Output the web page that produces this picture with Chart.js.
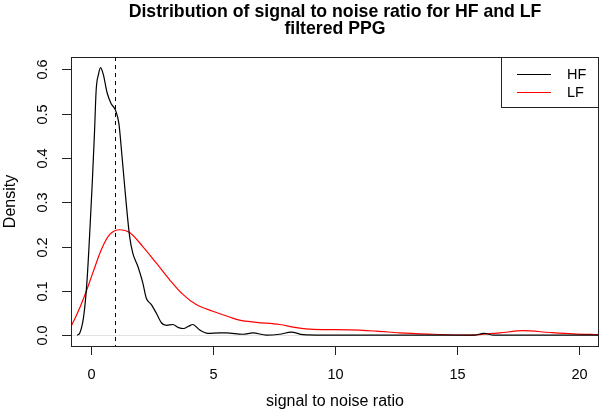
<!DOCTYPE html>
<html>
<head>
<meta charset="utf-8">
<script src="https://cdn.jsdelivr.net/npm/chart.js@4/dist/chart.umd.min.js"></script>
<style>
  body { margin: 0; background: #fff; }
  canvas { display: block; }
</style>
</head>
<body>
<canvas id="chart" width="602" height="412"></canvas>
<script>
// density estimates
const hfX = [-0.56, -0.45, -0.29, -0.16, -0.05, 0.06, 0.15, 0.22, 0.32, 0.40, 0.52, 0.66, 0.83, 1.01, 1.15, 1.28, 1.45, 1.59, 1.72, 1.93, 2.13, 2.27, 2.48, 2.68, 2.89, 3.09, 3.36, 3.6, 3.8, 4.0, 4.18, 4.45, 4.8, 5.27, 5.55, 6.23, 6.64, 7.19, 7.73, 8.21, 8.69, 9.5, 12, 15.7, 16.1, 16.5, 20.81];
const hfY = [0.0, 0.005, 0.043, 0.118, 0.223, 0.343, 0.455, 0.553, 0.59, 0.604, 0.587, 0.549, 0.523, 0.508, 0.478, 0.403, 0.298, 0.223, 0.185, 0.155, 0.118, 0.084, 0.069, 0.05, 0.028, 0.022, 0.024, 0.017, 0.015, 0.02, 0.024, 0.012, 0.004, 0.005, 0.005, 0.002, 0.005, 0.0, 0.002, 0.007, 0.001, 0.0, 0.0, 0.0, 0.004, 0.0, 0.0];

const lfX = [-0.81, -0.6, -0.26, 0.08, 0.43, 0.77, 1.2, 1.59, 2.13, 2.68, 3.23, 3.77, 4.32, 5.0, 5.68, 6.09, 6.78, 7.73, 8.42, 9.1, 10.6, 11.7, 12.65, 14.0, 15.4, 16.07, 16.75, 17.7, 18.8, 19.76, 20.81];
const lfY = [0.02, 0.043, 0.088, 0.14, 0.193, 0.227, 0.238, 0.232, 0.2, 0.163, 0.125, 0.092, 0.069, 0.054, 0.041, 0.034, 0.029, 0.024, 0.017, 0.013, 0.012, 0.009, 0.005, 0.002, 0.0, 0.002, 0.005, 0.01, 0.006, 0.003, 0.001];

const xTicks = [0, 5, 10, 15, 20];
const yTicks = [0.0, 0.1, 0.2, 0.3, 0.4, 0.5, 0.6];
const markerX = 1;

const titleLines = ["Distribution of signal to noise ratio for HF and LF", "filtered PPG"];
const xTitle = "signal to noise ratio";
const yTitle = "Density";
const seriesNames = ["HF", "LF"];
const seriesColors = ["#000000", "#ff0000"];

const FONT = '"Liberation Sans", Arial, Helvetica, sans-serif';

function toPoints(xs, ys) {
  return xs.map(function (x, i) { return { x: x, y: ys[i] }; });
}

// draws the R-style frame, axes, text and legend
const rStyle = {
  id: "rStyle",
  beforeDatasetsDraw(chart) {
    const ctx = chart.ctx, a = chart.chartArea, y = chart.scales.y;
    // faint zero line
    ctx.save();
    ctx.strokeStyle = "#e2e2e2";
    ctx.lineWidth = 1;
    const y0 = Math.round(y.getPixelForValue(0)) + 0.5;
    ctx.beginPath();
    ctx.moveTo(a.left, y0);
    ctx.lineTo(a.right, y0);
    ctx.stroke();
    ctx.restore();
  },
  afterDatasetsDraw(chart) {
    const ctx = chart.ctx, a = chart.chartArea;
    const xs = chart.scales.x, ys = chart.scales.y;

    // dashed marker line
    ctx.save();
    ctx.strokeStyle = "#000";
    ctx.lineWidth = 1;
    ctx.setLineDash([4, 4]);
    const vx = Math.round(xs.getPixelForValue(markerX)) + 0.5;
    ctx.beginPath();
    ctx.moveTo(vx, a.top);
    ctx.lineTo(vx, a.bottom);
    ctx.stroke();
    ctx.restore();

    ctx.save();
    ctx.strokeStyle = "#222";
    ctx.fillStyle = "#000";
    ctx.lineWidth = 1;

    // box
    ctx.strokeRect(Math.round(a.left) + 0.5, Math.round(a.top) + 0.5,
      Math.round(a.right - a.left) - 1, Math.round(a.bottom - a.top));

    // x axis ticks and labels
    ctx.font = "14.5px " + FONT;
    ctx.textAlign = "center";
    ctx.textBaseline = "middle";
    xTicks.forEach(function (v) {
      const px = Math.round(xs.getPixelForValue(v)) + 0.5;
      ctx.beginPath();
      ctx.moveTo(px, a.bottom);
      ctx.lineTo(px, a.bottom + 9);
      ctx.stroke();
      ctx.fillText(String(v), px, a.bottom + 29);
    });

    // y axis ticks and rotated labels
    yTicks.forEach(function (v) {
      const py = Math.round(ys.getPixelForValue(v)) + 0.5;
      ctx.beginPath();
      ctx.moveTo(a.left, py);
      ctx.lineTo(a.left - 9, py);
      ctx.stroke();
      ctx.save();
      ctx.translate(a.left - 28, py);
      ctx.rotate(-Math.PI / 2);
      ctx.fillText(v.toFixed(1), 0, 0);
      ctx.restore();
    });

    // axis titles
    const cx = (a.left + a.right) / 2;
    ctx.font = "16px " + FONT;
    ctx.fillText(xTitle, cx, a.bottom + 56);
    ctx.save();
    ctx.translate(11, (a.top + a.bottom) / 2);
    ctx.rotate(-Math.PI / 2);
    ctx.fillText(yTitle, 0, 0);
    ctx.restore();

    // main title
    ctx.font = "bold 17.7px " + FONT;
    ctx.textBaseline = "alphabetic";
    ctx.fillText(titleLines[0], cx, 17);
    ctx.fillText(titleLines[1], cx, 34);

    // legend
    const lx = 501.5, ly = a.top + 0.5, lw = a.right - 0.5 - lx, lh = 50;
    ctx.fillStyle = "#fff";
    ctx.fillRect(lx, ly, lw, lh);
    ctx.strokeRect(lx, ly, lw, lh);
    ctx.font = "14.5px " + FONT;
    ctx.textAlign = "left";
    ctx.textBaseline = "middle";
    seriesNames.forEach(function (name, i) {
      const yy = ly + 16.5 + i * 17.5;
      ctx.strokeStyle = seriesColors[i];
      ctx.beginPath();
      ctx.moveTo(517, Math.round(yy) + 0.5);
      ctx.lineTo(551, Math.round(yy) + 0.5);
      ctx.stroke();
      ctx.fillStyle = "#000";
      ctx.fillText(name, 567, yy + 1);
    });
    ctx.restore();
  }
};

new Chart(document.getElementById("chart").getContext("2d"), {
  type: "scatter",
  data: {
    datasets: [
      {
        label: seriesNames[0],
        data: toPoints(hfX, hfY),
        showLine: true,
        borderColor: seriesColors[0],
        borderWidth: 1.2,
        pointRadius: 0,
        tension: 0.4,
        cubicInterpolationMode: "monotone"
      },
      {
        label: seriesNames[1],
        data: toPoints(lfX, lfY),
        showLine: true,
        borderColor: seriesColors[1],
        borderWidth: 1.2,
        pointRadius: 0,
        tension: 0.4,
        cubicInterpolationMode: "monotone"
      }
    ]
  },
  options: {
    responsive: false,
    animation: false,
    layout: { padding: { left: 71, top: 57, right: 3, bottom: 66 } },
    plugins: {
      legend: { display: false },
      title: { display: false },
      tooltip: { enabled: false }
    },
    scales: {
      x: { type: "linear", min: -0.81, max: 20.81, display: false },
      y: { type: "linear", min: -0.0245, max: 0.628, display: false }
    }
  },
  plugins: [rStyle]
});
</script>
</body>
</html>
